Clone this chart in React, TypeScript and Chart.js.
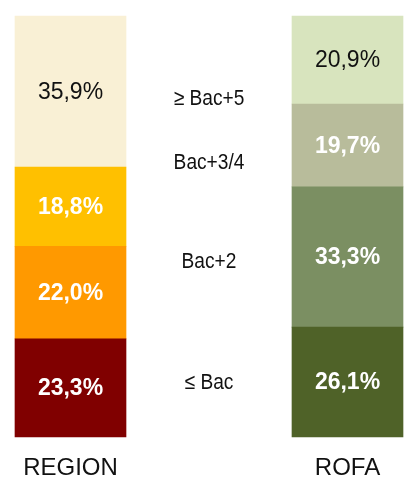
import React, { useEffect, useRef } from "react";
import { Chart, registerables } from "chart.js";

Chart.register(...registerables);

const categories = ["REGION", "", "ROFA"];
const levels = ["≤ Bac", "Bac+2", "Bac+3/4", "≥ Bac+5"];
const regionValues = [23.3, 22.0, 18.8, 35.9];
const rofaValues = [26.1, 33.3, 19.7, 20.9];
const levelLabelPositions = [12.8, 41.6, 65.1, 80.3];

const regionColors = ["#800000", "#FF9900", "#FFC000", "#F9F0D5"];
const rofaColors = ["#4F6228", "#7B8F62", "#B8BC9B", "#D8E4BE"];
const regionLabelColors = ["#FFFFFF", "#FFFFFF", "#FFFFFF", "#111111"];
const rofaLabelColors = ["#FFFFFF", "#FFFFFF", "#FFFFFF", "#111111"];

const FONT = "'Liberation Sans', Arial, sans-serif";

const fmt = (v: number) => v.toFixed(1).replace(".", ",") + "%";

const valueLabels = {
  id: "valueLabels",
  afterDatasetsDraw(chart: any) {
    const ctx = chart.ctx;
    ctx.save();
    ctx.textAlign = "center";
    ctx.textBaseline = "middle";
    chart.data.datasets.forEach((ds: any, di: number) => {
      const meta = chart.getDatasetMeta(di);
      meta.data.forEach((el: any, i: number) => {
        const v = ds.data[i];
        if (v == null) return;
        const cy = (el.y + el.base) / 2;
        const isRegion = i === 0;
        const color = isRegion ? regionLabelColors[di] : rofaLabelColors[di];
        const bold = color === "#FFFFFF";
        ctx.font = `${bold ? "bold " : ""}23px ${FONT}`;
        ctx.fillStyle = color;
        ctx.fillText(fmt(v), el.x, cy + 1);
      });
    });
    const xs = chart.scales.x;
    const ys = chart.scales.y;
    ctx.font = `22px ${FONT}`;
    ctx.fillStyle = "#111111";
    levels.forEach((lab, i) => {
      ctx.save();
      ctx.translate(xs.getPixelForValue(1), ys.getPixelForValue(levelLabelPositions[i]));
      ctx.scale(0.87, 1);
      ctx.fillText(lab, 0, 0);
      ctx.restore();
    });
    ctx.restore();
  },
};

export default function App() {
  const ref = useRef<HTMLCanvasElement | null>(null);
  useEffect(() => {
    if (!ref.current) return;
    const datasets = levels.map((lab, i) => ({
      label: lab,
      data: [regionValues[i], null, rofaValues[i]],
      backgroundColor: [regionColors[i], "transparent", rofaColors[i]],
      borderWidth: 0,
      barThickness: 111,
      clip: false as any,
    }));
    const chart = new Chart(ref.current, {
      type: "bar",
      data: { labels: categories, datasets },
      options: {
        animation: false,
        responsive: false,
        layout: { padding: { left: 70.5, right: 66.5, top: 16, bottom: 0 } },
        plugins: { legend: { display: false }, tooltip: { enabled: false } },
        scales: {
          x: {
            stacked: true,
            offset: false,
            grid: { display: false, drawTicks: false },
            border: { display: false },
            afterFit: (scale: any) => {
              scale.height = 47;
            },
            ticks: {
              color: "#111111",
              font: { family: FONT, size: 24 },
              padding: 17,
              maxRotation: 0,
              autoSkip: false,
            },
          },
          y: { stacked: true, display: false, min: 0, max: 100 },
        },
      },
      plugins: [valueLabels],
    });
    return () => chart.destroy();
  }, []);
  return (
    <div style={{ position: "absolute", left: 0, top: 0, width: 414, height: 484 }}>
      <canvas ref={ref} width={414} height={484} style={{ display: "block" }} />
    </div>
  );
}
